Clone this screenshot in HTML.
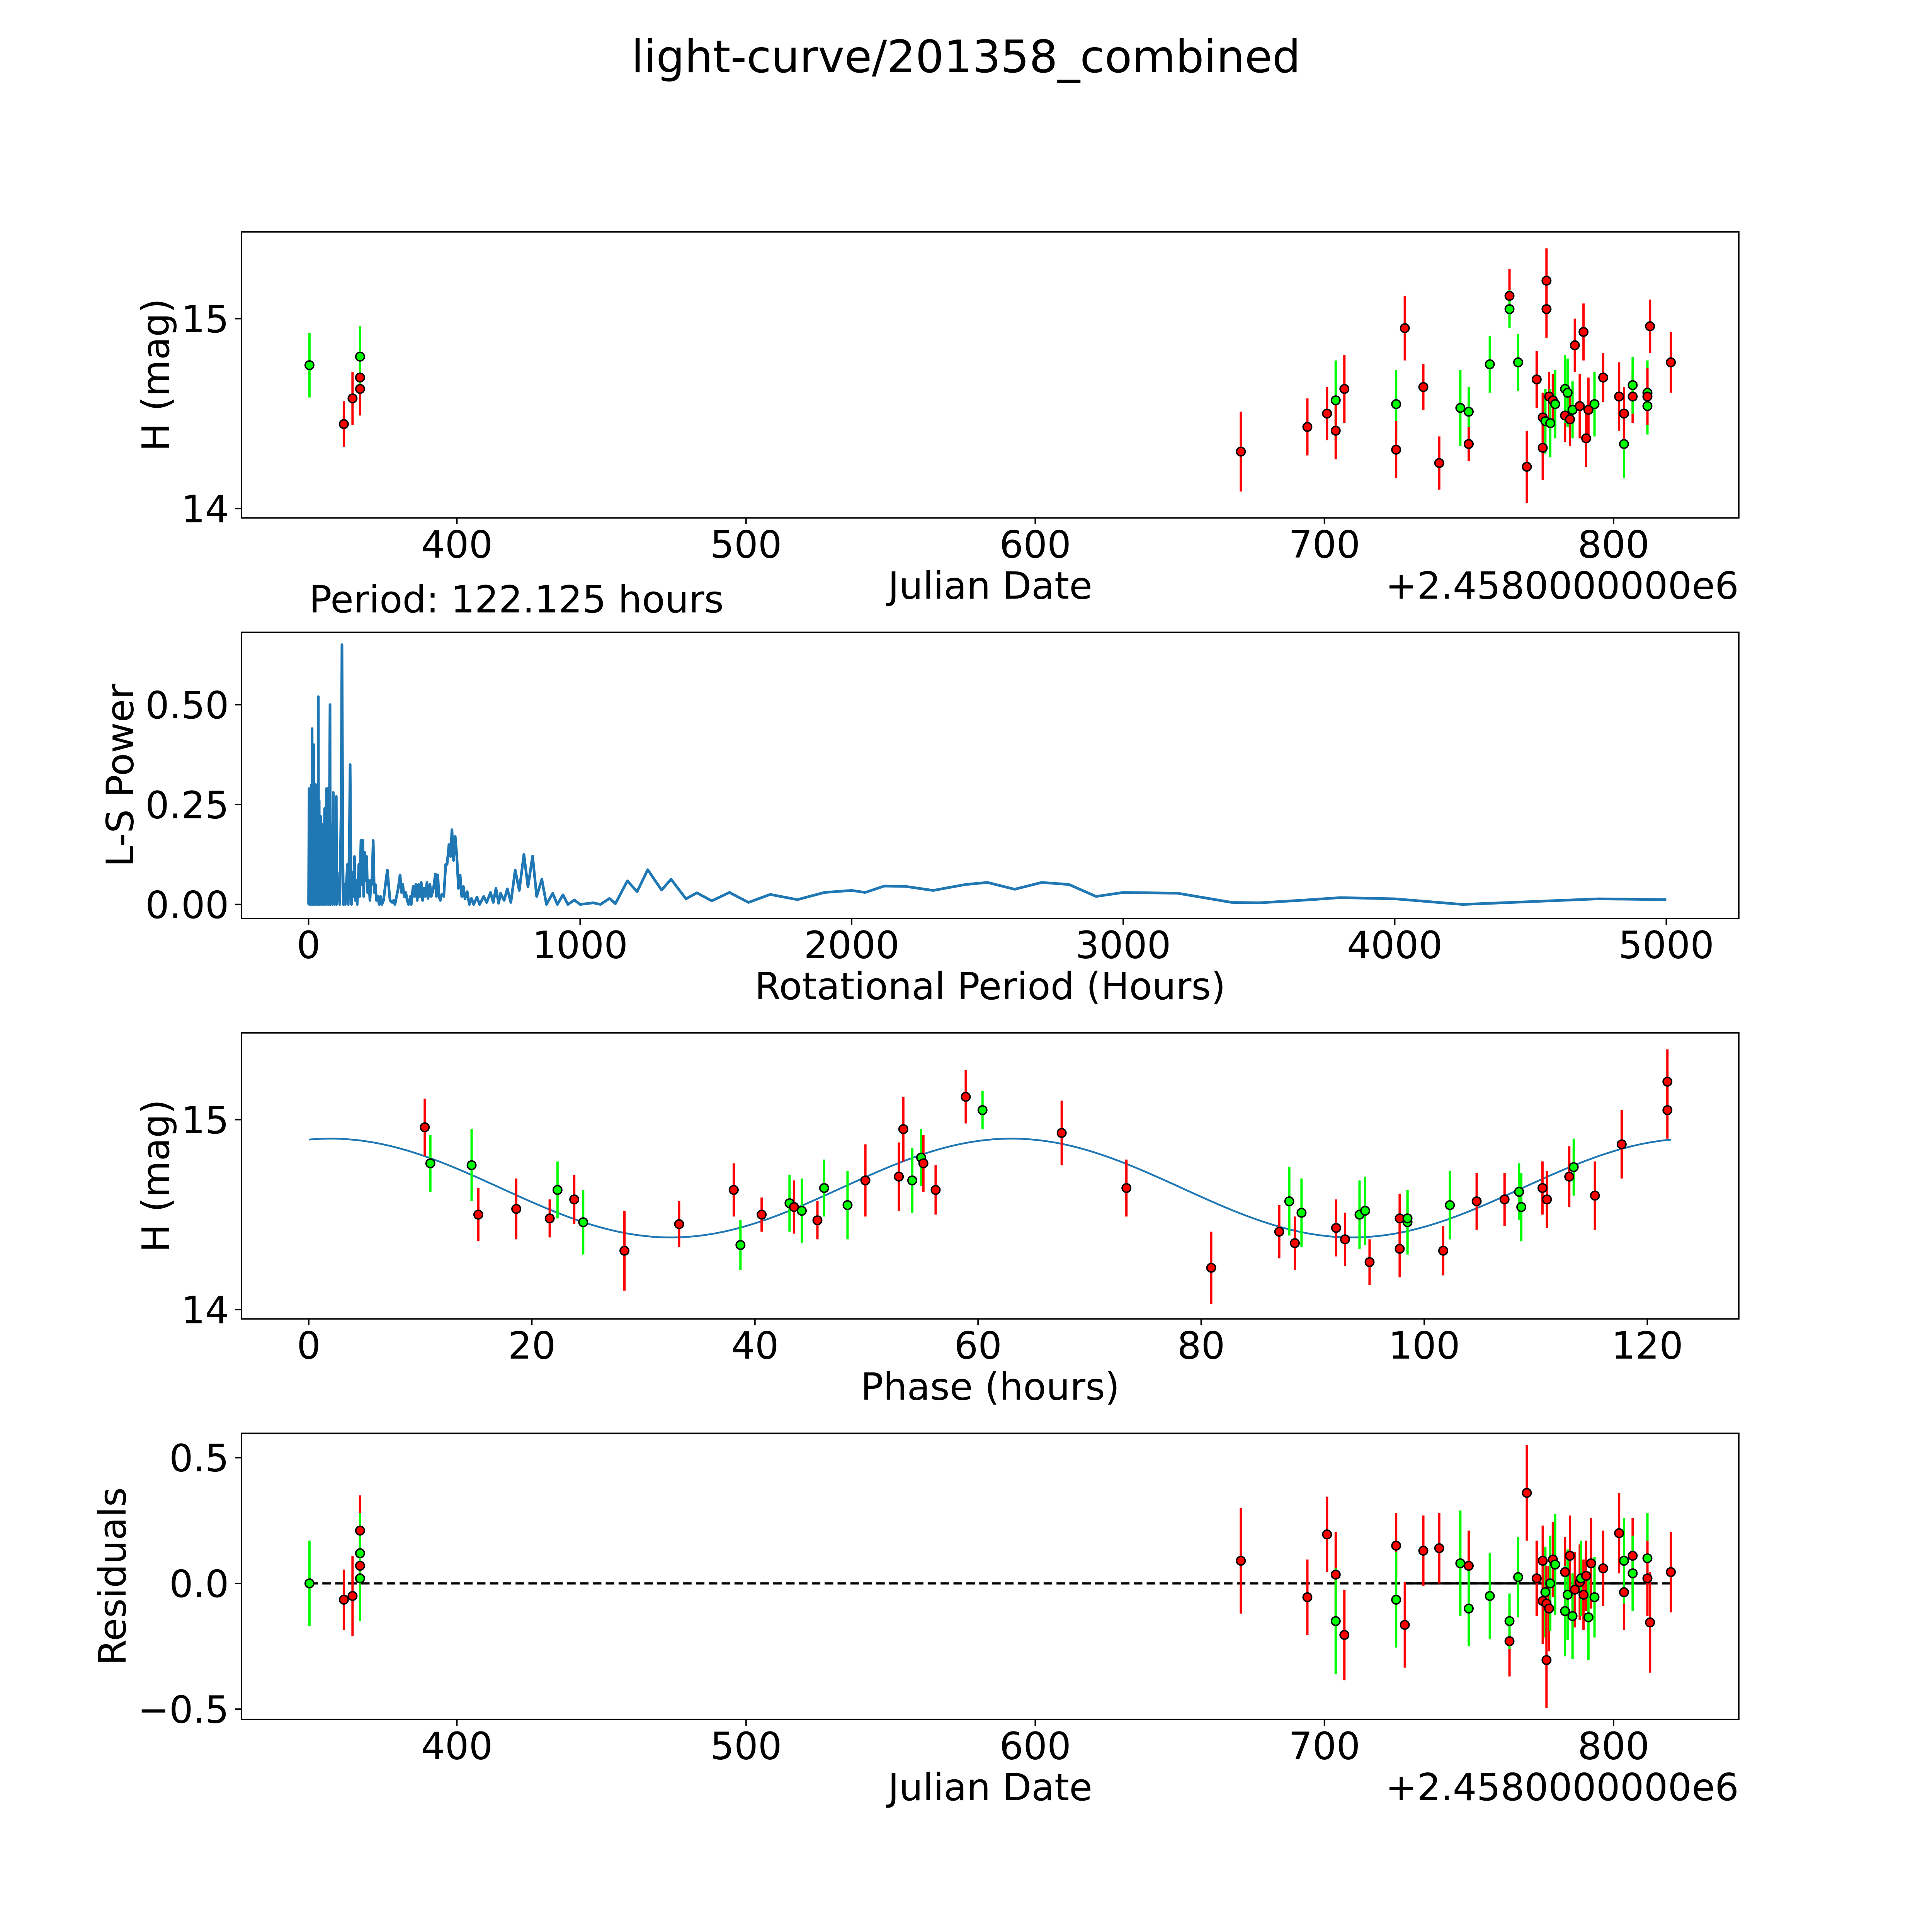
<!DOCTYPE html>
<html><head><meta charset="utf-8"><title>light-curve/201358_combined</title>
<style>html,body{margin:0;padding:0;background:#fff;overflow:hidden;width:100%;height:100%}svg{display:block;width:100vw;height:100vh}text{font-family:"DejaVu Sans","Liberation Sans",sans-serif;fill:#000}</style>
</head><body>
<svg id="fig" xmlns="http://www.w3.org/2000/svg" viewBox="0 0 5400 5400" preserveAspectRatio="none">
<rect width="5400" height="5400" fill="#fff"/>
<text x="2700" y="202" font-size="125" text-anchor="middle">light-curve/201358_combined</text>
</svg>
<script>
// ---- Panel 1: light curve ----
const lcJD=[349.0,360.9,363.9,366.5,366.5,366.5,671.1,694.1,700.9,703.9,703.9,706.9,724.8,724.8,727.8,734.2,739.7,747.0,749.9,749.9,757.2,764.0,764.0,767.0,770.0,773.4,775.5,775.5,776.4,776.8,776.8,777.7,778.1,779.0,779.8,783.2,783.2,784.1,784.9,785.8,786.6,788.3,789.6,790.5,791.3,793.4,796.4,801.9,803.6,803.6,806.6,806.6,811.7,811.7,811.7,812.6,819.8];
const lcMag=[14.755,14.445,14.58,14.69,14.63,14.80,14.30,14.43,14.50,14.57,14.41,14.63,14.55,14.31,14.95,14.64,14.24,14.53,14.51,14.34,14.76,15.12,15.05,14.77,14.22,14.68,14.48,14.32,14.46,15.20,15.05,14.59,14.45,14.57,14.55,14.49,14.63,14.61,14.47,14.52,14.86,14.54,14.93,14.37,14.52,14.55,14.69,14.59,14.34,14.50,14.59,14.65,14.61,14.54,14.59,14.96,14.77];
const lcErr=[0.17,0.12,0.14,0.15,0.14,0.16,0.21,0.15,0.14,0.21,0.15,0.18,0.18,0.15,0.17,0.12,0.14,0.20,0.13,0.09,0.15,0.14,0.10,0.15,0.19,0.15,0.13,0.17,0.17,0.17,0.15,0.13,0.18,0.14,0.18,0.14,0.18,0.18,0.14,0.15,0.14,0.17,0.15,0.15,0.17,0.17,0.13,0.18,0.18,0.14,0.14,0.15,0.17,0.15,0.15,0.14,0.16];
const lcBand=['g','r','r','r','r','g','r','r','r','g','r','r','g','r','r','r','r','g','g','r','g','r','g','g','r','r','r','r','g','r','r','r','g','r','g','r','g','g','r','g','r','r','r','r','r','g','r','r','g','r','r','g','g','g','r','r','r'];
// ---- Panel 2: periodogram ----
const lsPeriod=[0,2,3,5,6,8,9,11,12,13,14,16,17,19,20,22,23,26,27,29,30,33,34,36,37,39,40,42,43,45,46,48,50,52,53,56,57,59,60,62,63,66,67,70,71,74,75,79,80,83,84,87,88,91,92,95,96,99,100,102,103,106,108,112,115,120,123,126,128,132,135,140,143,146,150,153,156,158,162,165,169,172,176,179,185,188,193,196,200,203,207,210,214,217,222,226,230,233,238,242,246,250,255,260,265,270,276,283,290,296,300,308,313,318,330,337,342,347,352,358,363,368,375,378,385,390,395,400,405,410,415,420,425,430,436,440,447,452,460,467,471,476,480,485,490,498,505,510,517,523,528,534,540,546,552,558,564,570,576,584,592,600,608,620,630,645,656,670,680,690,700,707,720,732,745,761,776,793,808,825,840,859,876,899,916,937,955,979,1000,1048,1075,1108,1130,1174,1210,1249,1300,1335,1390,1430,1485,1550,1620,1700,1800,1900,2000,2050,2120,2200,2300,2420,2500,2600,2700,2800,2900,3000,3200,3400,3500,3650,3800,4000,4250,4500,4750,5000];
const lsPower=[0,0.29,0,0.26,0.02,0.18,0,0.30,0.05,0.44,0,0.22,0.03,0.40,0,0.15,0.02,0.30,0,0.23,0.05,0.19,0,0.52,0.02,0.26,0,0.18,0.03,0.22,0,0.14,0.03,0.20,0,0.13,0.02,0.24,0,0.18,0.02,0.29,0,0.29,0.05,0.16,0,0.50,0,0.20,0.02,0.15,0,0.28,0.02,0.12,0,0.10,0.02,0.27,0,0.08,0.01,0.04,0,0.25,0.65,0.15,0,0.05,0,0.06,0.10,0,0.15,0.35,0.10,0,0.08,0.02,0.12,0.01,0.06,0,0.10,0.02,0.16,0.05,0.16,0.02,0.13,0.06,0.12,0.03,0.06,0.01,0.06,0.05,0.16,0.03,0.05,0.01,0.02,0.0,0.02,0.0,0.01,0.05,0.086,0.04,0.01,0.005,0.01,0.0,0.04,0.074,0.03,0.05,0.02,0.03,0.01,0.0,0.02,0.0,0.045,0.02,0.05,0.01,0.05,0.02,0.055,0.01,0.04,0.02,0.055,0.015,0.05,0.02,0.04,0.076,0.02,0.074,0.02,0.01,0.025,0.02,0.10,0.10,0.15,0.12,0.187,0.11,0.17,0.12,0.04,0.074,0.02,0.045,0.014,0.032,0.0,0.015,0.0,0.018,0.0,0.02,0.005,0.03,0.005,0.04,0.003,0.028,0.01,0.039,0.005,0.086,0.035,0.125,0.044,0.121,0.02,0.063,0.0,0.028,0.0,0.024,0.0,0.011,0.0,0.004,0.0,0.015,0.002,0.059,0.032,0.087,0.036,0.063,0.014,0.029,0.009,0.03,0.005,0.025,0.012,0.03,0.035,0.03,0.046,0.045,0.035,0.05,0.055,0.038,0.055,0.05,0.02,0.03,0.028,0.005,0.004,0.01,0.017,0.014,0.0,0.007,0.014,0.012];
// ---- Panel 3: phased light curve ----
const phHours=[10.4,10.9,14.6,15.2,18.6,21.6,22.3,23.8,24.6,28.3,33.2,38.1,38.7,40.6,43.1,43.5,44.2,45.6,46.2,48.3,49.9,52.9,53.3,54.1,54.9,55.1,56.2,58.9,60.4,67.5,73.3,80.9,87.0,87.9,88.4,89.0,92.1,92.9,94.2,94.7,95.1,97.8,97.8,98.5,98.5,101.7,102.3,104.7,107.2,108.5,108.7,110.6,111.0,113.0,113.4,115.3,117.7,121.8,121.8];
const phMag=[14.96,14.77,14.76,14.50,14.53,14.48,14.63,14.58,14.46,14.31,14.45,14.63,14.34,14.50,14.56,14.54,14.52,14.47,14.64,14.55,14.68,14.70,14.95,14.68,14.80,14.77,14.63,15.12,15.05,14.93,14.64,14.22,14.41,14.57,14.35,14.51,14.43,14.37,14.50,14.52,14.25,14.32,14.48,14.46,14.48,14.31,14.55,14.57,14.58,14.62,14.54,14.64,14.58,14.70,14.75,14.60,14.87,15.20,15.05];
const phErr=[0.15,0.15,0.19,0.14,0.16,0.10,0.15,0.13,0.17,0.21,0.12,0.14,0.13,0.09,0.15,0.14,0.17,0.10,0.15,0.18,0.19,0.18,0.17,0.17,0.15,0.15,0.13,0.14,0.10,0.17,0.15,0.19,0.14,0.18,0.14,0.18,0.15,0.14,0.18,0.18,0.12,0.15,0.13,0.17,0.15,0.13,0.18,0.15,0.14,0.15,0.18,0.14,0.15,0.16,0.15,0.18,0.18,0.17,0.15];
const phBand=['r','g','g','r','r','r','g','r','g','r','r','r','g','r','g','r','g','r','g','g','r','r','r','g','g','r','r','r','g','r','r','r','r','g','r','g','r','r','g','g','r','r','r','g','g','r','g','r','r','g','g','r','r','r','g','r','r','r','r'];
const modelParams=[14.64,0.26,63.0,122.125]; // mean, amplitude, peak phase, rotational period (double-peaked)
// ---- Panel 4: residuals ----
const resJD=[349.0,360.9,363.9,366.5,366.5,366.5,366.5,671.1,694.1,700.9,703.9,703.9,706.9,724.8,724.8,727.8,734.2,739.7,747.0,749.9,749.9,757.2,764.0,764.0,767.0,770.0,773.4,775.5,775.5,776.4,776.8,776.8,777.7,778.1,779.0,779.8,783.2,783.2,784.1,784.9,785.8,786.6,788.3,788.7,789.6,790.5,791.3,792.2,793.4,796.4,801.9,803.6,803.6,806.6,806.6,811.7,811.7,812.6,819.8];
const resVal=[0.0,-0.065,-0.05,0.21,0.07,0.12,0.02,0.09,-0.055,0.195,0.035,-0.15,-0.205,0.15,-0.065,-0.165,0.13,0.14,0.08,0.07,-0.1,-0.05,-0.23,-0.15,0.025,0.36,0.02,0.09,-0.07,-0.035,-0.305,-0.08,-0.1,0.0,0.095,0.075,0.045,-0.11,-0.045,0.11,-0.13,-0.025,0.005,0.02,-0.045,0.03,-0.135,0.08,-0.055,0.06,0.2,-0.035,0.09,0.11,0.04,0.1,0.02,-0.155,0.045];
const resErr=[0.17,0.12,0.16,0.14,0.15,0.16,0.17,0.21,0.15,0.15,0.17,0.21,0.18,0.13,0.19,0.17,0.14,0.14,0.21,0.14,0.15,0.17,0.14,0.11,0.16,0.19,0.15,0.14,0.17,0.18,0.19,0.15,0.17,0.19,0.15,0.2,0.14,0.18,0.18,0.16,0.17,0.15,0.15,0.15,0.14,0.14,0.17,0.18,0.16,0.15,0.16,0.15,0.17,0.15,0.15,0.18,0.15,0.2,0.16];
const resBand=['g','r','r','r','r','g','g','r','r','r','r','g','r','r','g','r','r','r','g','r','g','g','r','g','g','r','r','r','r','g','r','r','r','g','r','g','r','g','g','r','g','r','r','g','r','r','g','r','g','r','r','r','g','r','g','g','r','r','r'];
const resZeroSolid=[728,813];

const NS='http://www.w3.org/2000/svg';
const svg=document.getElementById('fig');
function mk(tag,attrs,parent){const e=document.createElementNS(NS,tag);for(const k in attrs)e.setAttribute(k,attrs[k]);(parent||svg).appendChild(e);return e;}
const L=675,R=4860,W=R-L,H=799.6;
const TOPS=[648,1767.4,2886.8,4006.2];
function lin(d0,d1,p0,p1){return v=>p0+(v-d0)/(d1-d0)*(p1-p0);}
const COL={r:'#ff0000',g:'#00ff00'};

function axes(i,xs,ys,xt,xtl,yt,ytl,xlabel,ylabel,ylx,name){
  const top=TOPS[i],bot=top+H;
  const g=mk('g',{});
  
  
  xt.forEach((v,k)=>{
    const x=xs(v);
    const t=mk('line',{x1:x,x2:x,y1:bot,y2:bot+17.5,stroke:'#000','stroke-width':4},g);
    
    
    const tx=mk('text',{x:x,y:bot+111,'font-size':105,'text-anchor':'middle'},g);
    tx.textContent=xtl[k];
    
    
  });
  yt.forEach((v,k)=>{
    const y=ys(v);
    const t=mk('line',{x1:L-17.5,x2:L,y1:y,y2:y,stroke:'#000','stroke-width':4},g);
    
    
    const tx=mk('text',{x:L-35,y:y+38,'font-size':105,'text-anchor':'end'},g);
    tx.textContent=ytl[k];
    
    
  });
  const xl=mk('text',{x:(L+R)/2,y:bot+226,'font-size':105,'text-anchor':'middle'},g);
  xl.textContent=xlabel;
  
  
  const cy=top+H/2;
  const yl=mk('text',{x:ylx,y:cy,'font-size':105,'text-anchor':'middle',transform:`rotate(-90 ${ylx} ${cy})`},g);
  yl.textContent=ylabel;
  
  
  const plot=mk('g',{},g);
  
  
  return {g,plot,top,bot};
}
function frame(ax){
  const f=mk('rect',{x:L,y:ax.top,width:W,height:H,fill:'none',stroke:'#000','stroke-width':4},ax.g);
  
  
}
function offsetText(ax){
  const o=mk('text',{x:R,y:ax.bot+226,'font-size':105,'text-anchor':'end'},ax.g);
  o.textContent='+2.4580000000e6';
  
  
}
function errPoints(plot,xs,ys,X,Y,E,B,nm){
  X.forEach((v,k)=>{
    const x=xs(v);
    const b=mk('line',{x1:x,x2:x,y1:ys(Y[k]-E[k]),y2:ys(Y[k]+E[k]),stroke:COL[B[k]],'stroke-width':6.5},plot);
    
    
  });
  X.forEach((v,k)=>{
    const c=mk('circle',{cx:xs(v),cy:ys(Y[k]),r:12,fill:COL[B[k]],stroke:'#000','stroke-width':4},plot);
    
    
  });
}
const jdTicks=[400,500,600,700,800], jdLbl=['400','500','600','700','800'];

// Panel 1
{
  const xs=lin(325.5,843.3,L,R), ys=lin(13.951,15.457,TOPS[0]+H,TOPS[0]);
  const ax=axes(0,xs,ys,jdTicks,jdLbl,[14,15],['14','15'],'Julian Date','H (mag)',472,'light-curve-panel');
  offsetText(ax);
  errPoints(ax.plot,xs,ys,lcJD,lcMag,lcErr,lcBand,'light-curve');
  frame(ax);
}
// Panel 2
{
  const xs=lin(-247,5267,L,R), ys=lin(-0.035,0.681,TOPS[1]+H,TOPS[1]);
  const ax=axes(1,xs,ys,[0,1000,2000,3000,4000,5000],['0','1000','2000','3000','4000','5000'],[0,0.25,0.5],['0.00','0.25','0.50'],'Rotational Period (Hours)','L-S Power',372,'periodogram-panel');
  const pts=lsPeriod.map((p,k)=>xs(p).toFixed(1)+','+ys(lsPower[k]).toFixed(1)).join(' ');
  const pl=mk('polyline',{points:pts,fill:'none',stroke:'#1f77b4','stroke-width':7.5,'stroke-linejoin':'round'},ax.plot);
  
  
  frame(ax);
  const pt=mk('text',{x:864,y:1712,'font-size':105},ax.g);
  pt.textContent='Period: 122.125 hours';
  
  
}
// Panel 3
{
  const xs=lin(-6.03,128.2,L,R), ys=lin(13.951,15.457,TOPS[2]+H,TOPS[2]);
  const ax=axes(2,xs,ys,[0,20,40,60,80,100,120],['0','20','40','60','80','100','120'],[14,15],['14','15'],'Phase (hours)','H (mag)',472,'phase-panel');
  const [m,a,p0,P]=modelParams;
  const pts=[];
  for(let i=0;i<=400;i++){const t=P*i/400;pts.push(xs(t).toFixed(1)+','+ys(m+a*Math.cos(4*Math.PI*(t-p0)/P)).toFixed(1));}
  const c=mk('polyline',{points:pts.join(' '),fill:'none',stroke:'#1f77b4','stroke-width':5},ax.plot);
  
  
  errPoints(ax.plot,xs,ys,phHours,phMag,phErr,phBand,'phase');
  frame(ax);
}
// Panel 4
{
  const xs=lin(325.5,843.3,L,R), ys=lin(-0.541,0.597,TOPS[3]+H,TOPS[3]);
  const ax=axes(3,xs,ys,jdTicks,jdLbl,[-0.5,0,0.5],['\u22120.5','0.0','0.5'],'Julian Date','Residuals',351,'residuals-panel');
  offsetText(ax);
  const x0=xs(Math.min(...resJD)),x1=xs(Math.max(...resJD));
  const d=mk('line',{x1:x0,x2:x1,y1:ys(0),y2:ys(0),stroke:'#000','stroke-width':6,'stroke-dasharray':'24 12'},ax.plot);
  
  
  const s=mk('line',{x1:xs(resZeroSolid[0]),x2:xs(resZeroSolid[1]),y1:ys(0),y2:ys(0),stroke:'#000','stroke-width':6},ax.plot);
  
  
  errPoints(ax.plot,xs,ys,resJD,resVal,resErr,resBand,'residual');
  frame(ax);
}
</script>
</body></html>
